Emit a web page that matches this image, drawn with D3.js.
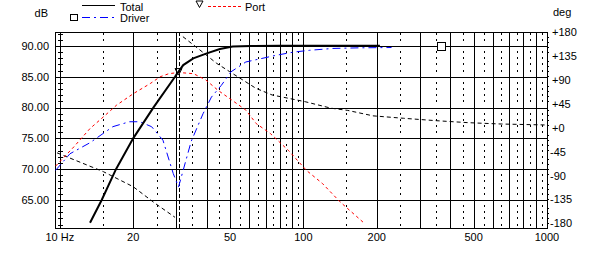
<!DOCTYPE html>
<html>
<head>
<meta charset="utf-8">
<script src="https://cdn.jsdelivr.net/npm/d3@7"></script>
<style>
  body { margin: 0; background: #fff; }
  svg { display: block; }
  text { font-family: 'Liberation Sans', Arial, sans-serif; font-size: 11px; fill: #000; }
</style>
</head>
<body>
<svg width="602" height="269"></svg>
<script>
// frequency response (dB)
const totalFreq = [13.3, 14.85, 17.0, 20.0, 24.2, 29.7, 30.4, 32.1, 35.3, 40.1, 45.4, 51.2, 60.8, 80, 120, 206]
const totalDb = [61.3, 65.0, 70.0, 75.0, 80.0, 85.0, 85.6, 86.9, 88.0, 88.8, 89.5, 89.9, 90.0, 90.05, 90.05, 90.05]

const driverFreq = [9.6, 11, 13.3, 16.5, 19.3, 21.3, 23.8, 26.5, 29.2, 30.7, 34.6, 38.7, 41.9, 46.0, 50.4, 58.0, 66.1, 77.5, 90.8, 106, 132, 170, 230]
const driverDb = [69.8, 72.5, 74.3, 76.9, 77.7, 77.7, 76.9, 74.7, 69.3, 67.1, 74.5, 79.0, 81.7, 83.6, 85.8, 87.4, 87.9, 88.5, 89.0, 89.3, 89.6, 89.7, 89.75]

const portFreq = [9.6, 11.4, 13.3, 15.1, 17.1, 20.1, 23.5, 25.8, 28, 30.7, 35.4, 39.7, 44.6, 50.9, 58.0, 64.0, 73.1, 87, 102.9, 119.5, 141.3, 178]
const portDb = [70.5, 73.6, 76.6, 78.5, 80.4, 82.3, 83.9, 85.0, 85.5, 85.7, 85.5, 84.5, 82.8, 81.2, 79.6, 77.4, 75.8, 73.0, 69.8, 67.7, 64.7, 61.2]

// phase (deg), wrapped at +-180
const phaseFreq = [9.74, 15.1, 20.0, 24.6, 29.7, 32.0, 37.6, 44.0, 49.8, 56.4, 63.8, 74.4, 86.9, 101.6, 130, 152, 193, 258, 351, 477, 648, 1000]
const phaseDeg = [-42, -76.6, -104.2, -134.7, -160.4, 171.4, 146.9, 122.5, 107.1, 91.8, 76.6, 64.3, 58.2, 52.0, 40, 36, 26, 21.5, 17.1, 13.4, 11.0, 9.2]

const tuningFreq = 30.7
const portMarker = [30.7, 85.6]
const driverMarker = [368, 90]

const dbTicks = [90, 85, 80, 75, 70, 65]
const phaseTicks = [180, 135, 90, 45, 0, -45, -90, -135, -180]
const freqTicks = [10, 20, 50, 100, 200, 500, 1000]
const freqLabels = ['10 Hz', '20', '50', '100', '200', '500', '1000']

const svg = d3.select('svg')

const x = d3.scaleLog().domain([9.55, 1000]).range([55, 547])
const y = d3.scaleLinear().domain([60.45, 92.27]).range([228, 32])
const yPh = d3.scaleLinear().domain([-180, 180]).range([228, 32])
// labels on the right sit a bit higher than the lines
const yPhLab = yPh.copy().range([223.5, 32.5])

const pLeft = x.range()[0], pRight = x.range()[1]
const pTop = y.range()[1], pBottom = y.range()[0]

svg.append('defs').append('clipPath').attr('id', 'plot')
  .append('rect').attr('x', pLeft).attr('y', pTop).attr('width', pRight - pLeft).attr('height', pBottom - pTop)

const grid = svg.append('g').attr('shape-rendering', 'crispEdges')

// vertical grid: solid at 2..9 x decade, dotted at the half steps
let solidF = [], dotF = []
;[10, 100].forEach(d => {
  for (let k = 1; k <= 9; k++) {
    if (k > 1) solidF.push(k * d)
    dotF.push((k + 0.5) * d)
  }
})
solidF.push(100)

grid.selectAll('.vs')
  .data(solidF)
  .join('line')
  .attr('x1', d => Math.round(x(d)) + 0.5)
  .attr('x2', d => Math.round(x(d)) + 0.5)
  .attr('y1', pTop).attr('y2', pBottom)
  .attr('stroke', '#000')

const dbDots = d3.range(61, 93).filter(v => v % 5 != 0)
dotF.forEach(f => {
  grid.append('g').selectAll('rect')
    .data(dbDots)
    .join('rect')
    .attr('x', Math.round(x(f)))
    .attr('y', d => Math.round(y(d)) - 1)
    .attr('width', 1).attr('height', 2)
    .attr('fill', '#000')
})

// horizontal dB lines
grid.selectAll('.hs')
  .data(dbTicks)
  .join('line')
  .attr('x1', pLeft).attr('x2', pRight)
  .attr('y1', d => Math.round(y(d)) + 0.5)
  .attr('y2', d => Math.round(y(d)) + 0.5)
  .attr('stroke', '#000')

// 10 Hz line with 1 dB ticks
grid.append('line')
  .attr('x1', Math.round(x(10)) + 0.5).attr('x2', Math.round(x(10)) + 0.5)
  .attr('y1', pTop).attr('y2', pBottom)
  .attr('stroke', '#000')
grid.append('g').selectAll('line')
  .data(d3.range(61, 93))
  .join('line')
  .attr('x1', x(10) - 2).attr('x2', x(10) + 3)
  .attr('y1', d => Math.round(y(d)) + 0.5)
  .attr('y2', d => Math.round(y(d)) + 0.5)
  .attr('stroke', '#000')

// phase ticks on the right edge
grid.append('g').selectAll('line')
  .data(d3.range(-171, 180, 9).filter(v => v % 45 != 0))
  .join('line')
  .attr('x1', pRight).attr('x2', pRight + 2)
  .attr('y1', d => Math.round(yPh(d)) + 0.5)
  .attr('y2', d => Math.round(yPh(d)) + 0.5)
  .attr('stroke', '#000')

// frame
grid.append('rect')
  .attr('x', pLeft + 0.5).attr('y', pTop + 0.5)
  .attr('width', pRight - pLeft).attr('height', pBottom - pTop)
  .attr('fill', 'none').attr('stroke', '#000')

// port tuning marker line
svg.append('line')
  .attr('x1', Math.round(x(tuningFreq)) + 0.5).attr('x2', Math.round(x(tuningFreq)) + 0.5)
  .attr('y1', pTop).attr('y2', pBottom)
  .attr('stroke', '#000').attr('stroke-dasharray', '4,2')
  .attr('shape-rendering', 'crispEdges')

// curves
const plot = svg.append('g').attr('clip-path', 'url(#plot)')
const line = d3.line().x(d => x(d[0])).y(d => y(d[1]))
const phLine = d3.line().x(d => x(d[0])).y(d => yPh(d[1]))

// split phase where it wraps
let segs = [[]]
phaseFreq.forEach((f, i) => {
  if (i > 0 && Math.abs(phaseDeg[i] - phaseDeg[i - 1]) > 180) segs.push([])
  segs[segs.length - 1].push([f, phaseDeg[i]])
})
plot.selectAll('.ph')
  .data(segs)
  .join('path')
  .attr('d', phLine)
  .attr('fill', 'none')
  .attr('stroke', '#000')
  .attr('stroke-width', 1)
  .attr('stroke-dasharray', '4,3')

plot.append('path')
  .attr('d', line(portFreq.map((f, i) => [f, portDb[i]])))
  .attr('fill', 'none')
  .attr('stroke', '#ff0000')
  .attr('stroke-dasharray', '3,3')

plot.append('path')
  .attr('d', line(driverFreq.map((f, i) => [f, driverDb[i]])))
  .attr('fill', 'none')
  .attr('stroke', '#0000ff')
  .attr('stroke-dasharray', '8,4,2,4')

plot.append('path')
  .attr('d', line(totalFreq.map((f, i) => [f, totalDb[i]])))
  .attr('fill', 'none')
  .attr('stroke', '#000')
  .attr('stroke-width', 2)

// markers
const tri = (cx, cy) => `M${cx - 3.5},${cy - 3.5}H${cx + 3.5}L${cx},${cy + 3}Z`
svg.append('path')
  .attr('d', tri(x(portMarker[0]), y(portMarker[1]) - 1))
  .attr('fill', 'none').attr('stroke', '#000')
svg.append('rect')
  .attr('x', Math.round(x(driverMarker[0])) - 4 + 0.5)
  .attr('y', Math.round(y(driverMarker[1])) - 4 + 0.5)
  .attr('width', 8).attr('height', 8)
  .attr('fill', '#fff').attr('stroke', '#000')

// axis labels
svg.selectAll('.dbl')
  .data(dbTicks)
  .join('text')
  .attr('x', 49)
  .attr('y', d => y(d))
  .attr('dy', '0.35em')
  .attr('text-anchor', 'end')
  .text(d => d.toFixed(2))

svg.selectAll('.phl')
  .data(phaseTicks)
  .join('text')
  .attr('x', d => d >= 0 ? 552 : 550)
  .attr('y', d => yPhLab(d))
  .attr('dy', '0.35em')
  .text(d => (d >= 0 ? '+' : '-') + Math.abs(d))

svg.selectAll('.fl')
  .data(freqTicks)
  .join('text')
  .attr('x', d => x(d))
  .attr('y', 240.5)
  .attr('text-anchor', 'middle')
  .text((d, i) => freqLabels[i])

svg.append('text').attr('x', 48).attr('y', 16.5).attr('text-anchor', 'end').text('dB')
svg.append('text').attr('x', 553).attr('y', 16).text('deg')

// legend
const lg = svg.append('g')
lg.append('line').attr('x1', 82).attr('x2', 115).attr('y1', 5.5).attr('y2', 5.5).attr('stroke', '#000')
lg.append('text').attr('x', 120).attr('y', 10.5).text('Total')
lg.append('rect').attr('x', 70.5).attr('y', 14.5).attr('width', 7).attr('height', 6)
  .attr('fill', 'none').attr('stroke', '#000')
lg.append('line').attr('x1', 82).attr('x2', 115).attr('y1', 17.5).attr('y2', 17.5)
  .attr('stroke', '#0000ff').attr('stroke-dasharray', '8,4,2,4')
lg.append('text').attr('x', 120).attr('y', 22).text('Driver')
lg.append('path').attr('d', tri(199.5, 4.5)).attr('fill', 'none').attr('stroke', '#000')
lg.append('line').attr('x1', 208).attr('x2', 241).attr('y1', 6.5).attr('y2', 6.5)
  .attr('stroke', '#ff0000').attr('stroke-dasharray', '3,2')
lg.append('text').attr('x', 245).attr('y', 10.5).text('Port')
</script>
</body>
</html>
